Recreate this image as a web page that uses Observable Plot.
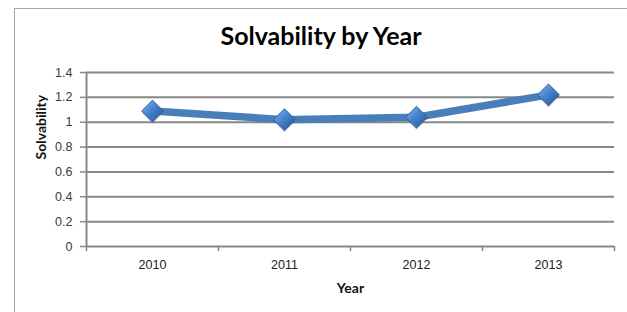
<!DOCTYPE html>
<html>
<head>
<meta charset="utf-8">
<script src="https://cdn.jsdelivr.net/npm/d3@7"></script>
<script src="https://cdn.jsdelivr.net/npm/@observablehq/plot@0.6"></script>
<style>
  html, body { margin: 0; padding: 0; background: #fff; }
  #wrap { position: relative; width: 627px; height: 312px; overflow: hidden; }
  #frame { position: absolute; left: 14px; top: 8px; width: 700px; height: 400px;
           border-left: 1px solid #a6a6a6; border-top: 1px solid #a6a6a6; }
  #title { position: absolute; left: 14px; width: 614px; top: 20px; text-align: center;
           font-family: Lato, "Open Sans", sans-serif; font-weight: bold; font-size: 25px; color: #000; line-height: 30px; }
  #chart { position: absolute; left: 0; top: 0; }
</style>
</head>
<body>
<div id="wrap">
  <div id="frame"></div>
  <div id="chart"></div>
  <div id="title">Solvability by Year</div>
</div>
<script>
const years = [2010, 2011, 2012, 2013];
const solvability = [1.09, 1.02, 1.04, 1.22];
const yTicks = [0, 0.2, 0.4, 0.6, 0.8, 1, 1.2, 1.4];
const yTickLabels = ["0", "0.2", "0.4", "0.6", "0.8", "1", "1.2", "1.4"];
const bandEdges = [2009.5, 2010.5, 2011.5, 2012.5, 2013.5];
const xTitle = "Year";
const yTitle = "Solvability";

const data = years.map((year, i) => ({year, value: solvability[i]}));
const grid = "#878787";
const tickFont = '"Liberation Sans", Arial, sans-serif';

const chart = Plot.plot({
  width: 627,
  height: 312,
  marginLeft: 86,
  marginRight: 13,
  marginTop: 72,
  marginBottom: 66,
  style: {background: "transparent", overflow: "visible"},
  x: {domain: [bandEdges[0], bandEdges[bandEdges.length - 1]]},
  y: {domain: [0, 1.4]},
  marks: [
    Plot.ruleY(yTicks, {stroke: grid, strokeWidth: 2, strokeOpacity: 1}),
    Plot.ruleX([bandEdges[0]], {stroke: grid, strokeWidth: 2, strokeOpacity: 1}),
    Plot.axisY(yTicks, {
      tickFormat: (d, i) => yTickLabels[i], tickSize: 6, tickPadding: 8,
      stroke: grid, strokeWidth: 1.5, strokeOpacity: 1, label: null,
      fontSize: 12.5, fontFamily: tickFont, fill: "#3a3a3a"
    }),
    Plot.axisX(bandEdges, {
      tickFormat: () => "", tickSize: 5, stroke: grid, strokeWidth: 1.5, strokeOpacity: 1, label: null
    }),
    Plot.axisX(years, {
      tickFormat: d => String(d), tickSize: 0, tickPadding: 14, label: null,
      fontSize: 12.5, fontFamily: tickFont, fill: "#222"
    }),
    Plot.text([xTitle], {
      frameAnchor: "bottom", dy: 42, text: d => d, fontSize: 14, fontWeight: "bold",
      fontFamily: "Lato, sans-serif", fill: "#111", lineAnchor: "middle"
    }),
    Plot.text([yTitle], {
      frameAnchor: "left", dx: -45, rotate: -90, text: d => d, fontSize: 14, fontWeight: "bold",
      fontFamily: "Lato, sans-serif", fill: "#111", lineAnchor: "middle"
    }),
    Plot.line(data, {x: "year", y: "value", stroke: "#4a7ebb", strokeWidth: 7.5, strokeLinejoin: "round"}),
    Plot.dot(data, {x: "year", y: "value", dy: 2, symbol: "diamond2", r: 9.5, fill: "#555", fillOpacity: 0.25, stroke: "none"}),
    Plot.dot(data, {x: "year", y: "value", symbol: "diamond2", r: 9.8, fill: "url(#diamondGrad)", stroke: "#2d5f9e", strokeWidth: 1})
  ]
});

const svg = d3.select(chart);
const defs = svg.insert("defs", ":first-child");
const g = defs.append("linearGradient").attr("id", "diamondGrad")
  .attr("x1", "0").attr("y1", "0").attr("x2", "1").attr("y2", "1");
g.append("stop").attr("offset", "0%").attr("stop-color", "#8dbaf0");
g.append("stop").attr("offset", "45%").attr("stop-color", "#4683cf");
g.append("stop").attr("offset", "100%").attr("stop-color", "#23538f");

document.getElementById("chart").appendChild(chart);
</script>
</body>
</html>
